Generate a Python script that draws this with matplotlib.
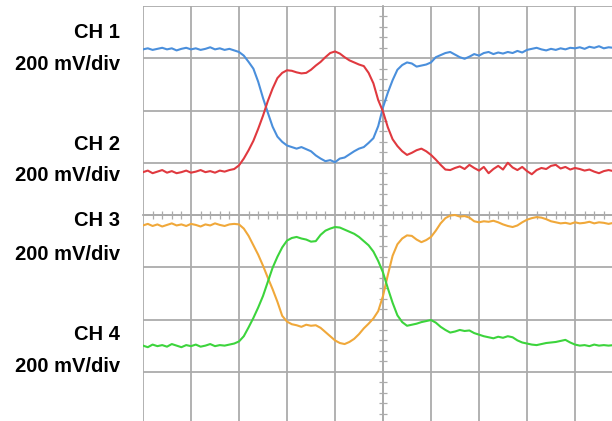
import numpy as np
import matplotlib.pyplot as plt

# oscilloscope capture, values in graticule divisions (200 mV/div)
t_div = np.round(np.arange(0, 9.85, 0.1), 2)

ch1 = [7.17, 7.19, 7.16, 7.18, 7.20, 7.17, 7.19, 7.15, 7.18, 7.20,
       7.17, 7.19, 7.16, 7.18, 7.21, 7.17, 7.19, 7.16, 7.18, 7.15,
       7.12, 7.05, 6.93, 6.80, 6.55, 6.24, 5.96, 5.69, 5.50, 5.40,
       5.33, 5.30, 5.27, 5.30, 5.26, 5.22, 5.14, 5.08, 5.03, 5.05,
       5.01, 5.08, 5.10, 5.16, 5.22, 5.27, 5.30, 5.38, 5.47, 5.70,
       6.06, 6.34, 6.58, 6.78, 6.87, 6.92, 6.90, 6.84, 6.86, 6.88,
       6.92, 7.02, 7.06, 7.10, 7.12, 7.07, 7.02, 6.99, 7.03, 7.08,
       7.05, 7.10, 7.12, 7.08, 7.11, 7.09, 7.12, 7.10, 7.14, 7.11,
       7.16, 7.18, 7.20, 7.17, 7.15, 7.18, 7.16, 7.19, 7.17, 7.20,
       7.19, 7.21, 7.18, 7.22, 7.20, 7.23, 7.19, 7.21, 7.20]

ch2 = [4.82, 4.85, 4.80, 4.83, 4.86, 4.81, 4.84, 4.80, 4.82, 4.85,
       4.81, 4.83, 4.86, 4.82, 4.84, 4.81, 4.85, 4.83, 4.86, 4.88,
       4.95, 5.08, 5.24, 5.42, 5.65, 5.90, 6.18, 6.42, 6.62, 6.72,
       6.77, 6.76, 6.73, 6.71, 6.72, 6.78, 6.86, 6.93, 7.02, 7.10,
       7.13, 7.09, 7.02, 6.96, 6.92, 6.88, 6.85, 6.72, 6.52, 6.20,
       5.98, 5.68, 5.45, 5.32, 5.22, 5.15, 5.19, 5.24, 5.27, 5.22,
       5.15, 5.06, 4.96, 4.87, 4.86, 4.90, 4.93, 4.88, 4.96, 4.90,
       4.85, 4.92, 4.80, 4.88, 4.94, 4.87, 5.00, 4.91, 4.86, 4.92,
       4.84, 4.78, 4.86, 4.90, 4.88, 4.94, 4.96, 4.89, 4.92, 4.87,
       4.90, 4.88, 4.85, 4.87, 4.83, 4.80, 4.84, 4.86, 4.84]

ch3 = [3.80, 3.83, 3.79, 3.82, 3.78, 3.81, 3.84, 3.80, 3.82, 3.79,
       3.83, 3.81, 3.78, 3.82, 3.80, 3.84, 3.81, 3.79, 3.82, 3.83,
       3.82, 3.74, 3.60, 3.42, 3.24, 3.03, 2.80, 2.58, 2.34, 2.07,
       1.96, 1.91, 1.89, 1.86, 1.90, 1.88, 1.89, 1.84, 1.76, 1.68,
       1.60, 1.55, 1.53, 1.57, 1.63, 1.72, 1.83, 1.92, 2.02, 2.16,
       2.45, 2.85, 3.22, 3.44, 3.55, 3.61, 3.60, 3.53, 3.48, 3.52,
       3.58, 3.70, 3.84, 3.94, 3.99, 4.00, 3.97, 3.98, 3.95, 3.88,
       3.86, 3.88, 3.87, 3.89, 3.86, 3.82, 3.79, 3.77, 3.80, 3.86,
       3.91, 3.94, 3.96, 3.95, 3.92, 3.88, 3.86, 3.84, 3.85, 3.83,
       3.86, 3.84, 3.85, 3.87, 3.84, 3.86, 3.85, 3.83, 3.85]

ch4 = [1.50, 1.47, 1.52, 1.49, 1.51, 1.48, 1.53, 1.50, 1.47, 1.51,
       1.49, 1.52, 1.48, 1.50, 1.53, 1.49, 1.51, 1.50, 1.52, 1.54,
       1.58, 1.68, 1.85, 2.03, 2.23, 2.45, 2.72, 2.99, 3.20, 3.38,
       3.51, 3.56, 3.58, 3.55, 3.53, 3.49, 3.50, 3.62, 3.70, 3.74,
       3.77, 3.76, 3.72, 3.68, 3.64, 3.58, 3.50, 3.42, 3.30, 3.12,
       2.90, 2.60, 2.32, 2.08, 1.95, 1.88, 1.90, 1.92, 1.95, 1.97,
       1.99, 1.94, 1.86, 1.80, 1.75, 1.77, 1.80, 1.78, 1.79, 1.74,
       1.71, 1.68, 1.66, 1.64, 1.67, 1.65, 1.68, 1.66, 1.60, 1.56,
       1.54, 1.52, 1.51, 1.53, 1.55, 1.56, 1.57, 1.59, 1.61, 1.56,
       1.52, 1.50, 1.51, 1.49, 1.52, 1.50, 1.51, 1.50, 1.51]

channels = ['CH 1', 'CH 2', 'CH 3', 'CH 4']
scale_label = '200 mV/div'
colors = ['#4a8fdc', '#e0393f', '#f0a83a', '#3cd43c']

W, H = 612, 421
fig = plt.figure(figsize=(W/100, H/100), dpi=100)
fig.patch.set_facecolor('white')

# graticule: left edge at x=143px, top at y=6px, 48px x 52.25px per division
ax = fig.add_axes([143/W, -3/H, 480/W, 418/H])
ax.set_xlim(0, 10)
ax.set_ylim(0, 8)

for y, c in zip([ch1, ch2, ch3, ch4], colors):
    ax.plot(t_div, y, color=c, lw=1.5, zorder=3)

grid_c = '#ababab'
ax.set_xticks(np.arange(0, 11, 1))
ax.set_yticks(np.arange(0, 9, 1))
ax.set_xticks(np.arange(0, 10.01, 0.2), minor=True)
ax.set_yticks(np.arange(0, 8.01, 0.2), minor=True)
ax.grid(True, which='major', color=grid_c, lw=1.3)
ax.set_axisbelow(True)
for s in ['top', 'right']:
    ax.spines[s].set_visible(False)
ax.spines['left'].set_position(('data', 5))
ax.spines['bottom'].set_position(('data', 4))
for s in ['left', 'bottom']:
    ax.spines[s].set_color(grid_c)
    ax.spines[s].set_linewidth(1.3)
ax.tick_params(which='major', length=0, labelleft=False, labelbottom=False)
ax.tick_params(which='minor', direction='inout', length=6, width=0.9, color=grid_c)

# channel labels on the left
label_y = [(32, 65), (144, 175), (221, 255), (335, 366)]
for name, (y1, y2) in zip(channels, label_y):
    fig.text(120/W, 1 - y1/H, name, ha='right', va='center',
             fontsize=14.5, fontweight='bold', family='Liberation Sans')
    fig.text(120/W, 1 - y2/H, scale_label, ha='right', va='center',
             fontsize=14.5, fontweight='bold', family='Liberation Sans')

fig.savefig('out.png', dpi=100)
